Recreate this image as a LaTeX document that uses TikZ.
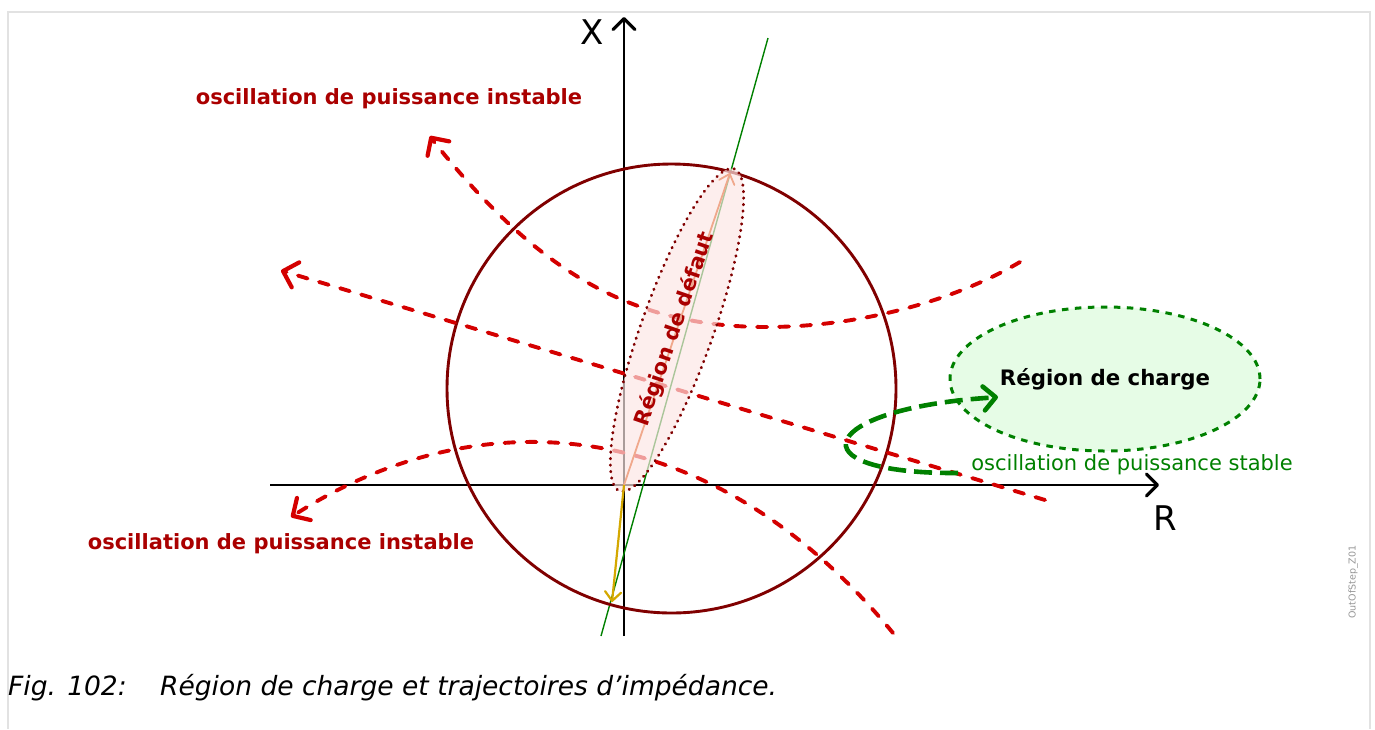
\documentclass[tikz,border=0pt]{standalone}
\usepackage{fontspec}
\setmainfont{DejaVu Sans}
\usetikzlibrary{arrows.meta,shapes.geometric}
\definecolor{framegray}{RGB}{226,226,226}
\definecolor{darkred}{RGB}{128,0,0}
\definecolor{lblred}{RGB}{170,0,0}
\definecolor{swingred}{RGB}{212,0,0}
\definecolor{okgreen}{RGB}{0,128,0}
\definecolor{loadfill}{RGB}{230,252,230}
\definecolor{faultfill}{RGB}{252,230,228}
\definecolor{salmon}{RGB}{240,168,140}
\definecolor{gold}{RGB}{212,168,0}
\tikzset{
  axis/.style={line width=2.4pt, black, -{Straight Barb[length=11pt,width=22pt,line width=3.2pt,round]}},
  swing/.style={line width=3.9pt, swingred, line cap=round, dash pattern=on 10pt off 12pt},
  redtip/.style={line width=3.9pt, swingred, solid, -{Straight Barb[length=13pt,width=26pt,line width=4.2pt,round]}},
  stableswing/.style={line width=4.6pt, okgreen, dash pattern=on 18pt off 8pt},
  greentip/.style={line width=4.6pt, okgreen, solid, -{Straight Barb[length=12pt,width=24pt,line width=4.6pt,round]}},
  lbl/.style={font=\fontsize{21}{25}\selectfont\bfseries, text=lblred, inner sep=0pt},
}
\begin{document}
\begin{tikzpicture}[x=1pt,y=-1pt]
\useasboundingbox (0,0) rectangle (1375,729);
% frame
\draw[framegray, line width=1.5pt] (8,729) -- (8,12) -- (1370,12) -- (1370,729);
% axes
\coordinate (O) at (624,485);
\coordinate (xbot) at (624,636);
\coordinate (xtop) at (624,17);
\coordinate (rleft) at (270,485);
\coordinate (rright) at (1159,485);
\draw[axis] (xbot) -- (xtop);
\draw[axis] (rleft) -- (rright);
\node[font=\fontsize{34}{38}\selectfont, inner sep=0pt] (Xl) at (592,32) {X};
\node[font=\fontsize{34}{38}\selectfont, inner sep=0pt] (Rl) at (1165,518) {R};
% green line
\coordinate (g1) at (768,38);
\coordinate (g2) at (601,636);
\draw[okgreen, line width=1.4pt] (g1) -- (g2);
% circle
\draw[darkred, line width=2.9pt] (671.5,388.5) circle [radius=224.5pt];
% unstable swings
\coordinate (a1) at (1020,262);
\coordinate (a2) at (430,136);
\coordinate (a2p) at (433,140.5);
\draw[swing] (a1) .. controls (930,315) and (800,338) .. (700,322) .. controls (600,306) and (520,250) .. (a2p);
\draw[redtip] (a2p) -- (a2);
\coordinate (s1) at (1045,500);
\coordinate (s2) at (281,270.5);
\coordinate (s2p) at (286,272);
\draw[swing] (s1) -- (s2p);
\draw[redtip] (s2p) -- (s2);
\coordinate (b1) at (893,633);
\coordinate (b2) at (291,517);
\coordinate (b2p) at (295.5,514.2);
\draw[swing] (b1) .. controls (800,520) and (680,445) .. (540,442) .. controls (440,440) and (355,476) .. (b2p);
\draw[redtip] (b2p) -- (b2);
% load region
\node[ellipse, draw=okgreen, fill=loadfill, line width=3pt, dash pattern=on 6.5pt off 6.5pt,
  minimum width=310pt, minimum height=144pt, inner sep=0pt,
  font=\fontsize{21.3}{25}\selectfont\bfseries] (load) at (1105,379) {Région de charge};
% stable swing
\coordinate (st1) at (958,473);
\coordinate (st2) at (998,397);
\coordinate (st2p) at (993,397.5);
\draw[stableswing] (st1) .. controls (790,474) and (818,408) .. (st2p);
\draw[greentip] (st2p) -- (st2);
\node[font=\fontsize{21}{25}\selectfont, text=okgreen, inner sep=0pt] (stl) at (1132,465) {oscillation de puissance stable};
% fault region
\node[ellipse, fill=faultfill, fill opacity=0.68, minimum width=342pt, minimum height=72pt,
  inner sep=0pt, rotate=70.4] (fault) at (677,330) {};
\coordinate (ftip) at (730,173);
\draw[salmon, line width=1.8pt, -{Straight Barb[length=9pt,width=16pt,line width=1.8pt,round]}] (O) -- (ftip);
\node[ellipse, draw=darkred, line width=2.9pt, dash pattern=on 0.5pt off 6pt, line cap=round,
  minimum width=342pt, minimum height=72pt, inner sep=0pt, rotate=70.4] (faultb) at (677,330) {};
\node[lbl, rotate=71] (fl) at (675,329) {Région de défaut};
% impedance arrow
\coordinate (ytip) at (612,602);
\draw[gold, line width=2.2pt, -{Straight Barb[length=9pt,width=16pt,line width=2.2pt,round]}] (O) -- (ytip);
% labels
\node[lbl] (u1) at (389,99) {oscillation de puissance instable};
\node[lbl] (u2) at (281,544) {oscillation de puissance instable};
\node[font=\fontsize{9.5}{11}\selectfont, text={rgb,255:red,150;green,150;blue,150}, rotate=90, inner sep=0pt] (tag) at (1353,582) {OutOfStep\_Z01};
% caption
\node[anchor=west, font=\fontsize{26.5}{30}\selectfont\itshape, inner sep=0pt] (cap1) at (8,688) {Fig. 102:};
\node[anchor=west, font=\fontsize{26.5}{30}\selectfont\itshape, inner sep=0pt] (cap2) at (160,688) {Région de charge et trajectoires d’impédance.};
\end{tikzpicture}
\end{document}
